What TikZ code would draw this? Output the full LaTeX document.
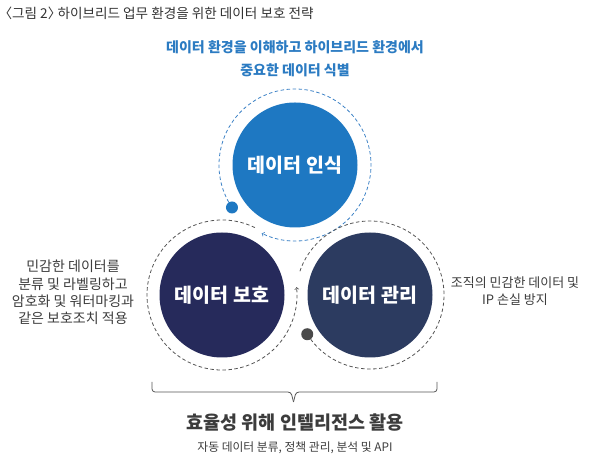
\documentclass[tikz,border=0pt]{standalone}
\usepackage{fontspec}
\setmainfont{Noto Sans CJK KR}
\definecolor{recogblue}{HTML}{1E78C2}
\definecolor{protnavy}{HTML}{262A5B}
\definecolor{mgmtnavy}{HTML}{2C3B60}
\definecolor{ringblue}{HTML}{3D82C6}
\definecolor{ringgray}{HTML}{555555}
\definecolor{dotgray}{HTML}{4A4A4A}
\definecolor{leadblue}{HTML}{2B7BC2}
\definecolor{titlegray}{HTML}{333333}
\definecolor{notegray}{HTML}{3C3C3C}
\begin{document}
\begin{tikzpicture}[x=1pt,y=1pt,
        disc/.style={circle,minimum size=125pt,inner sep=0pt,text=white,font=\fontsize{19.5}{22}\selectfont\bfseries},
        ring/.style={dash pattern=on 3.5pt off 2.5pt,line width=0.8pt},
        dot/.style={circle,minimum size=12pt,inner sep=0pt},
        note/.style={align=center,text=notegray}]
            \useasboundingbox (0,0) rectangle (600,468);
            \node[anchor=west,text=titlegray,font=\fontsize{13.6}{15}\selectfont] (title) at (-5,455) {〈그림 2〉\kern-0.5em\ 하이브리드 업무 환경을 위한 데이터 보호 전략};
            \node[align=center,text=leadblue,font=\fontsize{14}{22.5}\selectfont\bfseries] (lead) at (295,409) {데이터 환경을 이해하고 하이브리드 환경에서\\중요한 데이터 식별};
            \node[disc,fill=recogblue] (recog) at (295,303) {데이터 인식};
            \node[disc,fill=protnavy] (protect) at (222,173) {데이터 보호};
            \node[disc,fill=mgmtnavy] (manage) at (370,173) {데이터 관리};
            \draw[ring,draw=ringblue,->] (recog.center) ++(214:76) arc[start angle=214,end angle=-116,radius=76];
            \draw[ring,draw=ringgray,->] (protect.center) ++(64:75) arc[start angle=64,end angle=366,radius=75];
            \draw[ring,draw=ringgray] (manage.center) ++(212:74) arc[start angle=212,end angle=522,radius=74];
            \path (recog.center) ++(214:76) node[dot,fill=recogblue] (recogdot) {};
            \path (manage.center) ++(212:74) node[dot,fill=dotgray] (managedot) {};
            \node[note,font=\fontsize{14}{17.2}\selectfont] (protnote) at (73,175.5) {민감한 데이터를\\분류 및 라벨링하고\\암호화 및 워터마킹과\\같은 보호조치 적용};
            \node[note,font=\fontsize{13}{17}\selectfont] (mgmtnote) at (515,176.5) {조직의 민감한 데이터 및\\IP 손실 방지};
            \draw[ringgray,line width=0.8pt,rounded corners=3pt] (152,86) |- (291,76) -- (293.5,66);
            \draw[ringgray,line width=0.8pt,rounded corners=3pt] (437,86) |- (296,76) -- (293.5,66);
            \node[text=notegray,font=\fontsize{18.5}{20}\selectfont\bfseries] (intel) at (295,45) {효율성 위해 인텔리전스 활용};
            \node[text=notegray,font=\fontsize{11.8}{14}\selectfont] (inteldesc) at (295,20) {자동 데이터 분류, 정책 관리, 분석 및 API};
        \end{tikzpicture}
\end{document}
